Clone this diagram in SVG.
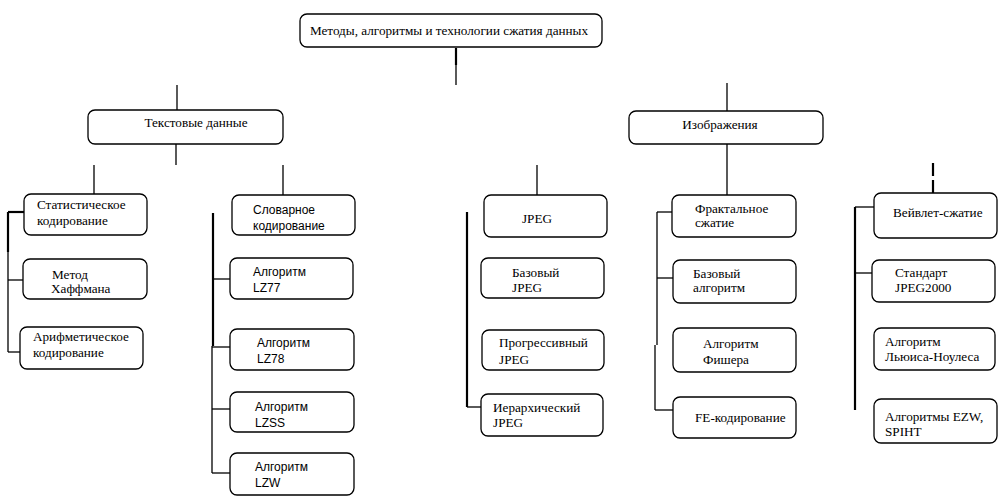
<svg xmlns="http://www.w3.org/2000/svg" width="1006" height="498" viewBox="0 0 1006 498">
<style>
.box{fill:#fff;stroke:#000;stroke-width:1.3}
.s{font-family:"Liberation Serif","Times New Roman","DejaVu Serif",serif;font-size:13.2px;fill:#000}
.a{font-family:"Liberation Sans",Arial,sans-serif;font-size:12px;fill:#000}
.c{stroke:#000;stroke-width:1.3;fill:none}
.t{stroke:#000;stroke-width:2.2;fill:none}
</style>
<rect width="1006" height="498" fill="#fff"/>
<g id="connectors">
<line class="t" x1="456" y1="48" x2="456" y2="65"/>
<line class="c" x1="456" y1="65" x2="456" y2="85"/>
<line class="c" x1="177" y1="85" x2="177" y2="110"/>
<line class="c" x1="727" y1="83" x2="727" y2="111"/>
<line class="c" x1="176" y1="144" x2="176" y2="165"/>
<line class="c" x1="727" y1="144" x2="727" y2="195"/>
<line class="c" x1="537" y1="165" x2="537" y2="195"/>
<line class="t" x1="933" y1="163" x2="933" y2="176"/>
<line class="t" x1="933" y1="180" x2="933" y2="193"/>
<line class="c" x1="94" y1="165" x2="94" y2="194"/>
<line class="c" x1="283" y1="165" x2="283" y2="195"/>
<line class="t" x1="8" y1="212" x2="8" y2="252"/>
<line class="c" x1="8" y1="252" x2="8" y2="352"/>
<line class="t" x1="8" y1="212" x2="24" y2="212"/>
<line class="c" x1="8" y1="280" x2="23" y2="280"/>
<line class="c" x1="8" y1="352" x2="20" y2="352"/>
<line class="t" x1="213" y1="213" x2="213" y2="346"/>
<line class="c" x1="212" y1="346" x2="212" y2="473"/>
<line class="c" x1="212" y1="279" x2="230" y2="279"/>
<line class="c" x1="212" y1="347" x2="230" y2="347"/>
<line class="c" x1="212" y1="409" x2="230" y2="409"/>
<line class="c" x1="212" y1="473" x2="230" y2="473"/>
<line class="t" x1="467" y1="212" x2="467" y2="407"/>
<line class="c" x1="467" y1="407" x2="481" y2="407"/>
<line class="c" x1="657" y1="212" x2="657" y2="345"/>
<line class="c" x1="655" y1="345" x2="655" y2="410"/>
<line class="c" x1="657" y1="212" x2="672" y2="212"/>
<line class="c" x1="657" y1="278" x2="673" y2="278"/>
<line class="c" x1="655" y1="410" x2="673" y2="410"/>
<line class="t" x1="855" y1="207" x2="855" y2="410"/>
<line class="c" x1="855" y1="207" x2="874" y2="207"/>
<line class="c" x1="855" y1="273" x2="872" y2="273"/>
</g>
<g id="root"><rect class="box" x="300" y="14" width="302" height="33" rx="7"/><text class="s" x="449" y="35" text-anchor="middle">Методы, алгоритмы и технологии сжатия данных</text></g>
<g id="text-data"><rect class="box" x="88" y="110" width="195" height="34" rx="7"/><text class="s" x="196" y="127" text-anchor="middle">Текстовые данные</text></g>
<g id="images"><rect class="box" x="629" y="111" width="194" height="33" rx="7"/><text class="s" x="720" y="129" text-anchor="middle">Изображения</text></g>
<g id="stat"><rect class="box" x="24" y="194" width="123" height="41" rx="7"/><text class="s" x="37" y="209">Статистическое</text><text class="s" x="37" y="225">кодирование</text></g>
<g id="huffman"><rect class="box" x="23" y="259" width="124" height="40" rx="7"/><text class="s" x="52" y="279">Метод</text><text class="s" x="51" y="293">Хаффмана</text></g>
<g id="arith"><rect class="box" x="20" y="327" width="123" height="42" rx="7"/><text class="s" x="33" y="341">Арифметическое</text><text class="s" x="33" y="357">кодирование</text></g>
<g id="dict"><rect class="box" x="232" y="195" width="123" height="40" rx="7"/><text class="a" x="253" y="214">Словарное</text><text class="a" x="253" y="230">кодирование</text></g>
<g id="lz77"><rect class="box" x="230" y="258" width="123" height="41" rx="7"/><text class="a" x="253" y="276">Алгоритм</text><text class="a" x="253" y="292">LZ77</text></g>
<g id="lz78"><rect class="box" x="230" y="329" width="124" height="41" rx="7"/><text class="a" x="257" y="347">Алгоритм</text><text class="a" x="257" y="363">LZ78</text></g>
<g id="lzss"><rect class="box" x="230" y="392" width="124" height="40" rx="7"/><text class="a" x="255" y="411">Алгоритм</text><text class="a" x="255" y="427">LZSS</text></g>
<g id="lzw"><rect class="box" x="230" y="453" width="124" height="42" rx="7"/><text class="a" x="255" y="471">Алгоритм</text><text class="a" x="255" y="487">LZW</text></g>
<g id="jpeg"><rect class="box" x="484" y="195" width="123" height="42" rx="7"/><text class="s" x="537" y="223" text-anchor="middle">JPEG</text></g>
<g id="jpeg-base"><rect class="box" x="481" y="258" width="123" height="40" rx="7"/><text class="s" x="512" y="277">Базовый</text><text class="s" x="512" y="292">JPEG</text></g>
<g id="jpeg-prog"><rect class="box" x="482" y="330" width="122" height="40" rx="7"/><text class="s" x="499" y="347">Прогрессивный</text><text class="s" x="499" y="364">JPEG</text></g>
<g id="jpeg-hier"><rect class="box" x="481" y="394" width="122" height="42" rx="7"/><text class="s" x="493" y="412">Иерархический</text><text class="s" x="493" y="427">JPEG</text></g>
<g id="fractal"><rect class="box" x="672" y="195" width="124" height="42" rx="7"/><text class="s" x="695" y="213">Фрактальное</text><text class="s" x="695" y="227">сжатие</text></g>
<g id="fractal-base"><rect class="box" x="673" y="260" width="123" height="43" rx="7"/><text class="s" x="693" y="278">Базовый</text><text class="s" x="693" y="292">алгоритм</text></g>
<g id="fisher"><rect class="box" x="673" y="328" width="123" height="44" rx="7"/><text class="s" x="703" y="348">Алгоритм</text><text class="s" x="703" y="364">Фишера</text></g>
<g id="fe"><rect class="box" x="673" y="397" width="123" height="41" rx="7"/><text class="s" x="695" y="422">FE-кодирование</text></g>
<g id="wavelet"><rect class="box" x="874" y="193" width="123" height="45" rx="7"/><text class="s" x="893" y="217">Вейвлет-сжатие</text></g>
<g id="jpeg2000"><rect class="box" x="872" y="260" width="123" height="42" rx="7"/><text class="s" x="895" y="277">Стандарт</text><text class="s" x="895" y="292">JPEG2000</text></g>
<g id="lewis"><rect class="box" x="874" y="328" width="121" height="42" rx="7"/><text class="s" x="885" y="346">Алгоритм</text><text class="s" x="885" y="361">Льюиса-Ноулеса</text></g>
<g id="ezw"><rect class="box" x="874" y="399" width="123" height="44" rx="7"/><text class="s" x="885" y="421">Алгоритмы EZW,</text><text class="s" x="885" y="436">SPIHT</text></g>
</svg>
